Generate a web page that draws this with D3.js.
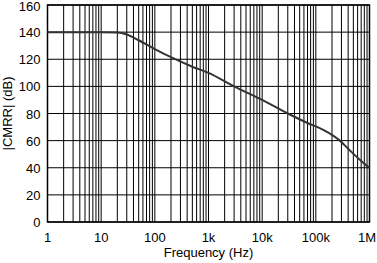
<!DOCTYPE html>
<html lang="en">
<head>
<meta charset="UTF-8">
<title>CMRR vs Frequency</title>
<style>
  body { margin: 0; background: #fff; }
  svg { display: block; font-family: "Liberation Sans", Arial, sans-serif; }
  .grid line { stroke: #000; stroke-width: 1; }
  .frame { fill: none; stroke: #000; stroke-width: 1.5; }
  .curve { fill: none; stroke: #333; stroke-width: 2; }
  .tick-label { font-size: 13px; fill: #000; }
  .axis-title { font-size: 13px; fill: #000; }
</style>
</head>
<body>
<div id="chart"></div>
<script src="https://d3js.org/d3.v7.min.js"></script>
<script>
// values
const freq = [1, 10, 20, 30, 50, 100, 200, 500, 1e3, 3e3, 1e4, 3e4, 7e4, 1.4e5, 2e5, 2.8e5, 4e5, 7e5, 1e6];
const cmrr = [140, 140, 139.8, 138.3, 134, 127.5, 121.5, 114.5, 110, 100, 90, 80, 73, 67.8, 64.3, 60, 54, 45, 40];

const xTicks = [1, 10, 100, 1e3, 1e4, 1e5, 1e6];
const xTickLabels = ["1", "10", "100", "1k", "10k", "100k", "1M"];
const yTicks = [0, 20, 40, 60, 80, 100, 120, 140, 160];

const W = 377, H = 263;
const margin = { top: 5, right: 7.5, bottom: 41, left: 47.5 };

const svg = d3.select("#chart").append("svg")
  .attr("width", W).attr("height", H);

const x = d3.scaleLog().domain([1, 1e6]).range([margin.left, W - margin.right]);
const y = d3.scaleLinear().domain([0, 160]).range([H - margin.bottom, margin.top]);

// minor grid: 1..9 in every decade
const minor = [];
for (let d = 1; d < 1e6; d *= 10) {
  for (let k = 1; k < 10; k++) minor.push(d * k);
}
minor.push(1e6);

const grid = svg.append("g").attr("class", "grid");
grid.selectAll(".v").data(minor).join("line")
  .attr("x1", d => x(d)).attr("x2", d => x(d))
  .attr("y1", y(0)).attr("y2", y(160));
grid.selectAll(".h").data(yTicks).join("line")
  .attr("x1", x(1)).attr("x2", x(1e6))
  .attr("y1", d => y(d)).attr("y2", d => y(d));

svg.append("rect").attr("class", "frame")
  .attr("x", x(1)).attr("y", y(160))
  .attr("width", x(1e6) - x(1)).attr("height", y(0) - y(160));

// tick labels (last one kept inside the window)
svg.selectAll(".xl").data(xTicks).join("text")
  .attr("class", "tick-label")
  .attr("x", (d, i) => i === xTicks.length - 1 ? W - 1 : x(d))
  .attr("y", y(0) + 20)
  .attr("text-anchor", (d, i) => i === xTicks.length - 1 ? "end" : "middle")
  .text((d, i) => xTickLabels[i]);

svg.selectAll(".yl").data(yTicks).join("text")
  .attr("class", "tick-label")
  .attr("x", x(1) - 7)
  .attr("y", d => Math.max(y(d) + 5, 11))
  .attr("text-anchor", "end")
  .text(d => d);

// axis titles
svg.append("text").attr("class", "axis-title")
  .attr("x", (x(1) + x(1e6)) / 2).attr("y", H - 6)
  .attr("text-anchor", "middle")
  .text("Frequency (Hz)");

svg.append("text").attr("class", "axis-title")
  .attr("transform", `translate(12,${(y(0) + y(160)) / 2}) rotate(-90)`)
  .attr("text-anchor", "middle")
  .text("|CMRR| (dB)");

// curve
const line = d3.line()
  .x((d, i) => x(freq[i]))
  .y(d => y(d))
  .curve(d3.curveMonotoneX);

svg.append("path").datum(cmrr)
  .attr("class", "curve")
  .attr("d", line);
</script>
</body>
</html>
